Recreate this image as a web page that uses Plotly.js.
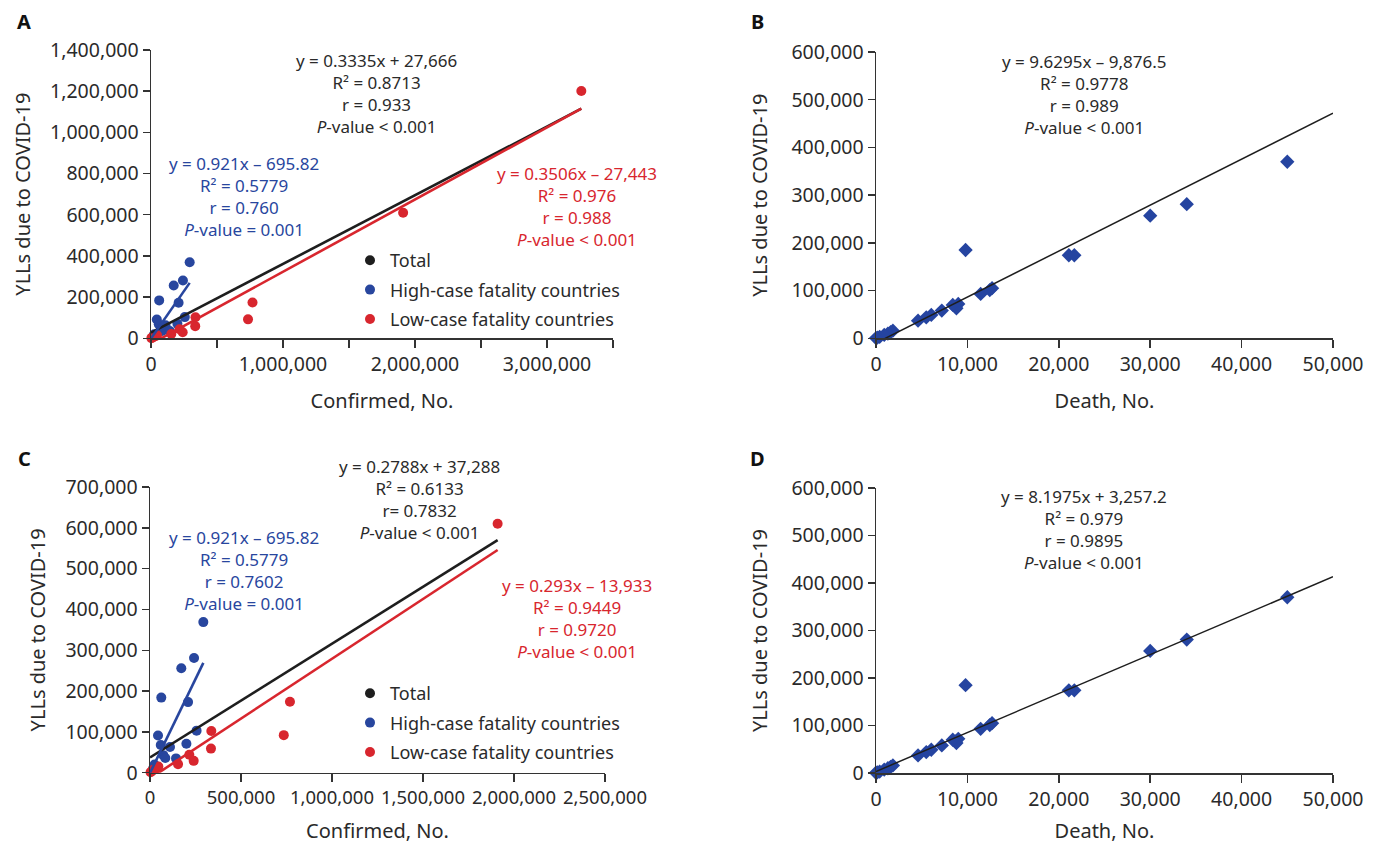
<!DOCTYPE html>
<html>
<head>
<meta charset="utf-8">
<script src="https://cdn.plot.ly/plotly-3.0.1.min.js"></script>
<style>html,body{margin:0;padding:0;background:#fff;}#chart{width:1382px;height:844px;}</style>
</head>
<body>
<div id="chart"></div>
<script>
// ---------- Data ----------
// Panels A & C: Confirmed cases vs YLLs
const highX = [293000, 242000, 172000, 62000, 209000, 256000, 44000, 59000, 110000, 200000, 73000, 84000, 143000, 18000, 25000];
const highY = [369000, 281000, 256000, 184000, 173000, 103000, 91000, 68000, 63000, 71000, 43000, 36000, 35000, 11000, 20000];
const lowX  = [337000, 335000, 216000, 240000, 154000, 769000, 735000, 1910000, 46000, 37000, 18000, 8000, 3000, 3260000];
const lowY  = [102000, 59000, 44000, 29000, 21000, 174000, 92000, 610000, 15000, 11000, 7000, 3000, 1000, 1201000];
// Panel C excludes the outlier above 3,000,000 confirmed cases
const cMaxConfirmed = 3000000;

// Panels B & D: Deaths vs YLLs
const deathX = [45000, 34000, 30000, 21100, 21700, 9800, 11450, 12450, 12700, 9000, 8700, 8800, 8400, 7200, 6050, 5500, 4600, 1850, 1600, 1300, 900, 400, 150, 0];
const deathY = [370000, 281000, 257000, 174000, 174000, 185000, 93000, 101000, 105000, 72000, 66000, 63000, 70000, 58000, 49000, 44000, 37000, 16000, 13000, 10000, 7000, 3000, 1500, 500];

// Regression equations shown in the chart: [total, high, low]
const slopeA = [0.3335, 0.921, 0.3506];
const interceptA = [27666, -695.82, -27443];
const slopeC = [0.2788, 0.921, 0.293];
const interceptC = [37288, -695.82, -13933];
const slopeBD = [9.6295, 8.1975];
const interceptBD = [-9876.5, 3257.2];

// Annotation texts
const eqA_total = ["y = 0.3335x + 27,666", "R² = 0.8713", "r = 0.933", "<i>P</i>-value &lt; 0.001"];
const eqA_high  = ["y = 0.921x – 695.82", "R² = 0.5779", "r = 0.760", "<i>P</i>-value = 0.001"];
const eqA_low   = ["y = 0.3506x – 27,443", "R² = 0.976", "r = 0.988", "<i>P</i>-value &lt; 0.001"];
const eqB       = ["y = 9.6295x – 9,876.5", "R² = 0.9778", "r = 0.989", "<i>P</i>-value &lt; 0.001"];
const eqC_total = ["y = 0.2788x + 37,288", "R² = 0.6133", "r= 0.7832", "<i>P</i>-value &lt; 0.001"];
const eqC_high  = ["y = 0.921x – 695.82", "R² = 0.5779", "r = 0.7602", "<i>P</i>-value = 0.001"];
const eqC_low   = ["y = 0.293x – 13,933", "R² = 0.9449", "r = 0.9720", "<i>P</i>-value &lt; 0.001"];
const eqD       = ["y = 8.1975x + 3,257.2", "R² = 0.979", "r = 0.9895", "<i>P</i>-value &lt; 0.001"];

const legendNames = ["Total", "High-case fatality countries", "Low-case fatality countries"];
const panelLetters = ["A", "B", "C", "D"];
const xTitleConfirmed = "Confirmed, No.";
const xTitleDeath = "Death, No.";
const yTitle = "YLLs due to COVID-19";

// ---------- Styling ----------
const W = 1382, H = 844;
const FONT = "Noto Sans, Open Sans, sans-serif";
const BLACK = "#1e1e1e", BLUE = "#28469e", RED = "#d8262e", DIAMOND = "#2544a0";
const TXT = "#2a2a2a", AX = "#333333";
const px = x => x / W;
const py = y => 1 - y / H;

const cX = [], cY = [];
lowX.forEach((v, i) => { if (v < cMaxConfirmed) { cX.push(v); cY.push(lowY[i]); } });

function fitLine(x0, x1, m, b, color, width, xa, ya) {
  return {x: [x0, x1], y: [m * x0 + b, m * x1 + b], mode: "lines", type: "scatter",
    line: {color: color, width: width}, xaxis: xa, yaxis: ya, showlegend: false, hoverinfo: "skip"};
}
function pts(x, y, color, xa, ya, symbol, size) {
  return {x: x, y: y, mode: "markers", type: "scatter", xaxis: xa, yaxis: ya, cliponaxis: false,
    marker: {color: color, size: size, symbol: symbol}, showlegend: false};
}
function legendDummy(name, color, leg, xa, ya) {
  return {x: [null], y: [null], mode: "markers", type: "scatter", name: name, legend: leg,
    legendgroup: leg + name, xaxis: xa, yaxis: ya, marker: {color: color, size: 10}, showlegend: true};
}
const maxv = a => Math.max.apply(null, a);

const traces = [
  // Panel A
  pts(highX, highY, BLUE, "x", "y", "circle", 10),
  pts(lowX, lowY, RED, "x", "y", "circle", 10),
  fitLine(0, maxv(lowX.concat(highX)), slopeA[0], interceptA[0], BLACK, 2.6, "x", "y"),
  fitLine(0, maxv(highX), slopeA[1], interceptA[1], BLUE, 2.6, "x", "y"),
  fitLine(0, maxv(lowX), slopeA[2], interceptA[2], RED, 2.6, "x", "y"),
  legendDummy(legendNames[0], BLACK, "legend", "x", "y"),
  legendDummy(legendNames[1], BLUE, "legend", "x", "y"),
  legendDummy(legendNames[2], RED, "legend", "x", "y"),
  // Panel B
  pts(deathX, deathY, DIAMOND, "x2", "y2", "diamond", 11),
  fitLine(0, 50000, slopeBD[0], interceptBD[0], BLACK, 1.5, "x2", "y2"),
  // Panel C
  pts(highX, highY, BLUE, "x3", "y3", "circle", 10),
  pts(cX, cY, RED, "x3", "y3", "circle", 10),
  fitLine(0, maxv(cX.concat(highX)), slopeC[0], interceptC[0], BLACK, 2.6, "x3", "y3"),
  fitLine(0, maxv(highX), slopeC[1], interceptC[1], BLUE, 2.6, "x3", "y3"),
  fitLine(0, maxv(cX), slopeC[2], interceptC[2], RED, 2.6, "x3", "y3"),
  legendDummy(legendNames[0], BLACK, "legend2", "x3", "y3"),
  legendDummy(legendNames[1], BLUE, "legend2", "x3", "y3"),
  legendDummy(legendNames[2], RED, "legend2", "x3", "y3"),
  // Panel D
  pts(deathX, deathY, DIAMOND, "x4", "y4", "diamond", 11),
  fitLine(0, 50000, slopeBD[1], interceptBD[1], BLACK, 1.5, "x4", "y4")
];

function axisBase(extra) {
  return Object.assign({
    showline: true, linecolor: AX, linewidth: 1.5, ticks: "outside", tickcolor: AX, tickwidth: 1.5,
    ticklen: 7, showgrid: false, zeroline: false, fixedrange: true, tickformat: ",d", tick0: 0,
    tickfont: {family: FONT, size: 19.5, color: TXT}
  }, extra);
}
function titleObj(t, standoff) { return {text: t, font: {family: FONT, size: 20, color: TXT}, standoff: standoff}; }

const layout = {
  width: W, height: H, margin: {l: 0, r: 0, t: 0, b: 0},
  paper_bgcolor: "#fff", plot_bgcolor: "rgba(0,0,0,0)",
  font: {family: FONT, color: TXT},
  xaxis: axisBase({domain: [px(151), px(613)], range: [0, 3500000], anchor: "y", ticklen: 8, dtick: 1000000,
    minor: {dtick: 500000, tick0: 0, ticks: "outside", ticklen: 8, tickwidth: 1.5, tickcolor: AX, showgrid: false},
    title: titleObj(xTitleConfirmed, 18)}),
  yaxis: axisBase({domain: [py(338.3), py(50)], range: [0, 1400000], anchor: "x", dtick: 200000,
    title: titleObj(yTitle, 14)}),
  xaxis2: axisBase({domain: [px(876), px(1333)], range: [0, 50000], anchor: "y2", ticklen: 8, dtick: 10000,
    title: titleObj(xTitleDeath, 18)}),
  yaxis2: axisBase({domain: [py(338.3), py(52)], range: [0, 600000], anchor: "x2", dtick: 100000,
    title: titleObj(yTitle, 18)}),
  xaxis3: axisBase({domain: [px(150), px(605)], range: [0, 2500000], anchor: "y3", ticklen: 8, dtick: 500000,
    tickfont: {family: FONT, size: 18.5, color: TXT}, title: titleObj(xTitleConfirmed, 18)}),
  yaxis3: axisBase({domain: [py(772.7), py(487)], range: [0, 700000], anchor: "x3", dtick: 100000,
    title: titleObj(yTitle, 14)}),
  xaxis4: axisBase({domain: [px(876), px(1333)], range: [0, 50000], anchor: "y4", ticklen: 8, dtick: 10000,
    title: titleObj(xTitleDeath, 18)}),
  yaxis4: axisBase({domain: [py(773), py(488)], range: [0, 600000], anchor: "x4", dtick: 100000,
    title: titleObj(yTitle, 18)}),
  legend: {x: px(350), y: py(242), xanchor: "left", yanchor: "top", bgcolor: "rgba(0,0,0,0)",
    font: {family: FONT, size: 18, color: TXT}, tracegroupgap: 3, traceorder: "grouped", itemsizing: "trace"},
  legend2: {x: px(350), y: py(675), xanchor: "left", yanchor: "top", bgcolor: "rgba(0,0,0,0)",
    font: {family: FONT, size: 18, color: TXT}, tracegroupgap: 3, traceorder: "grouped", itemsizing: "trace"},
  annotations: [],
  showlegend: true
};

// each block: centre x and centre y (pixels), drawn as one multi-line text
function addBlock(lines, cx, cy, color) {
  layout.annotations.push({text: lines.join("<br>"), xref: "paper", yref: "paper", x: px(cx), y: py(cy),
    xanchor: "center", yanchor: "middle", align: "center", showarrow: false, borderpad: 0,
    font: {family: FONT, size: 17, color: color}});
}
addBlock(eqA_total, 377, 94, TXT);
addBlock(eqA_high, 244, 196, BLUE);
addBlock(eqA_low, 577, 206, RED);
addBlock(eqB, 1084, 94.5, TXT);
addBlock(eqC_total, 419, 499.5, TXT);
addBlock(eqC_high, 244, 570, BLUE);
addBlock(eqC_low, 577, 618.5, RED);
addBlock(eqD, 1084, 529, TXT);

const letterPos = [[24, 22], [757, 22], [24, 458], [757, 458]];
panelLetters.forEach((l, i) => {
  layout.annotations.push({text: "<b>" + l + "</b>", xref: "paper", yref: "paper", x: px(letterPos[i][0]), y: py(letterPos[i][1]),
    xanchor: "center", yanchor: "middle", showarrow: false, font: {family: FONT, size: 20, color: "#111"}});
});

Plotly.newPlot("chart", traces, layout, {displayModeBar: false, staticPlot: true});
</script>
</body>
</html>
